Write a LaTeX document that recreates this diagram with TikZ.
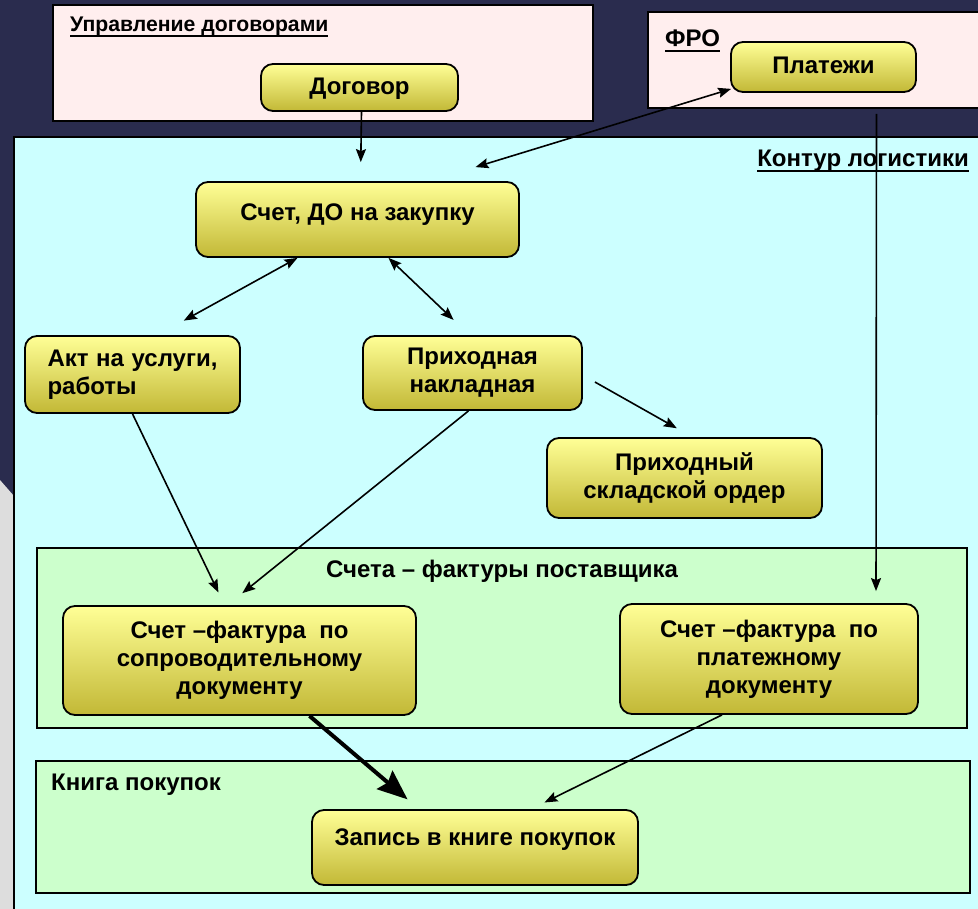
\documentclass[tikz,border=0pt]{standalone}
\usepackage{fontspec}
\setmainfont{Liberation Sans}
\usetikzlibrary{arrows.meta, calc}
\definecolor{backnavy}{RGB}{42,44,78}
\definecolor{backgray}{RGB}{221,221,221}
\definecolor{areapink}{RGB}{255,238,238}
\definecolor{areacyan}{RGB}{204,255,255}
\definecolor{areagreen}{RGB}{204,255,204}
\definecolor{boxtop}{RGB}{255,255,150}
\definecolor{boxbottom}{RGB}{194,184,54}
\newcommand{\ultitle}[1]{\setbox0=\hbox{#1}\rlap{\rule[-5.5pt]{\wd0}{2pt}}\box0}
\tikzset{
	area/.style={rectangle, draw, line width=2pt, inner sep=0pt},
	docbox/.style={rectangle, draw, line width=1.8pt, rounded corners=12pt, top color=boxtop, bottom color=boxbottom, align=center, inner sep=0pt, font=\fontsize{24}{28}\selectfont\bfseries},
	title/.style={font=\fontsize{24}{28}\selectfont\bfseries, inner sep=0pt},
	line/.style={draw, line width=1.6pt, ->}
}

\begin{document}
\begin{tikzpicture}[
	x=1pt, y=-1pt,
	>={Stealth[length=13pt, width=10pt, inset=2pt]}
	]
	\useasboundingbox (0,0) rectangle (978,909);
	\clip (0,0) rectangle (978,909);
	
	% Background
	\fill[backnavy] (0,0) rectangle (978,909);
	\fill[backgray] (0,480) -- (14,496) -- (14,909) -- (0,909) -- cycle;
	
	% Areas
	\node[area, fill=areapink, minimum width=540pt, minimum height=116pt] (contract_area) at (323,63) {};
	\node[area, fill=areapink, minimum width=342pt, minimum height=96pt] (fro_area) at (819,60) {};
	\node[area, fill=areacyan, minimum width=976pt, minimum height=783pt] (logistics_area) at (502,528.5) {};
	\node[area, fill=areagreen, minimum width=930pt, minimum height=180pt] (invoices_area) at (502,638) {};
	\node[area, fill=areagreen, minimum width=934pt, minimum height=132pt] (ledger_area) at (503,827) {};
	
	% Area titles
	\node[title, anchor=base west, font=\fontsize{21.2}{25}\selectfont\bfseries] (contract_title) at ($(contract_area.north west)+(18,28)$) {\ultitle{Управление договорами}};
	\node[title, anchor=base west] (fro_title) at ($(fro_area.north west)+(18,36)$) {\ultitle{ФРО}};
	\node[title, anchor=base east] (logistics_title) at ($(logistics_area.north east)+(-22,31)$) {\ultitle{Контур логистики}};
	\node[title, anchor=base] (invoices_title) at ($(invoices_area.north)+(0,30)$) {Счета – фактуры поставщика};
	\node[title, anchor=base west] (ledger_title) at ($(ledger_area.north west)+(16,30)$) {Книга покупок};
	
	% Documents
	\node[docbox, minimum width=197pt, minimum height=47pt, text depth=3pt] (contract) at (359.5,87.5) {Договор};
	\node[docbox, minimum width=185pt, minimum height=50pt, text depth=3pt] (payments) at (823.5,67) {Платежи};
	\node[docbox, minimum width=323pt, minimum height=75pt, text depth=15pt] (invoice_order) at (357.5,219.5) {Счет, ДО на закупку};
	\node[docbox, minimum width=215pt, minimum height=77pt, text width=170pt, align=left] (act_services) at (132.5,374.5) {Акт\hfill на\hfill услуги,\\работы};
	\node[docbox, minimum width=219pt, minimum height=74pt] (goods_receipt) at (472.5,373) {Приходная\\накладная};
	\node[docbox, minimum width=275pt, minimum height=80pt] (warehouse_order) at (684.5,478) {Приходный\\складской ордер};
	\node[docbox, minimum width=353pt, minimum height=109pt] (invoice_shipping) at (239.5,660.5) {Счет –фактура\ \ по\\сопроводительному\\документу};
	\node[docbox, minimum width=298pt, minimum height=110pt] (invoice_payment) at (769,659) {Счет –фактура\ \ по\\платежному\\документу};
	\node[docbox, minimum width=326pt, minimum height=75pt, text depth=20pt] (purchase_record) at (475,847.5) {Запись в книге покупок};
	
	% Links from the contract and the payments
	\draw[line, shorten >=19pt] ($(contract.south)+(2,0)$) -- ($(invoice_order.north)+(3,0)$);
	\coordinate (invoice_order_link) at ($(invoice_order.north)+(118,-14)$);
	\draw[line, <->] (invoice_order_link) -- ($(payments.south west)+(1,-4)$);
	
	% Links below the invoice
	\draw[line, <->, shorten >=30pt] ($(invoice_order.south)+(-60,0)$) -- ($(act_services.north)+(25,0)$);
	\draw[line, <->, shorten >=22pt] ($(invoice_order.south)+(31,0)$) -- ($(goods_receipt.north)+(-3,0)$);
	\draw[line, shorten >=18pt] ($(goods_receipt.east)+(12,9)$) -- ($(warehouse_order.north)+(8,0)$);
	
	% Links into the supplier invoices
	\draw[line, shorten >=14pt] (act_services.south) -- ($(invoice_shipping.north)+(-15,0)$);
	\draw[line, shorten >=19pt] ($(goods_receipt.south)+(-4,0)$) -- ($(invoice_shipping.north)+(-12,0)$);
	\draw[line, shorten >=12pt] ($(payments.south)+(53,21)$) -- ($(invoice_payment.north)+(107,0)$);
	
	% Links into the purchase ledger
	\draw[line width=4pt, -{Stealth[length=30pt, width=24pt, inset=4pt]}, shorten >=15pt] ($(invoice_shipping.south)+(70,0)$) -- ($(purchase_record.north)+(-56,0)$);
	\draw[line, shorten >=15pt] ($(invoice_payment.south)+(-47,0)$) -- ($(purchase_record.north)+(56,0)$);
	
\end{tikzpicture}
\end{document}
